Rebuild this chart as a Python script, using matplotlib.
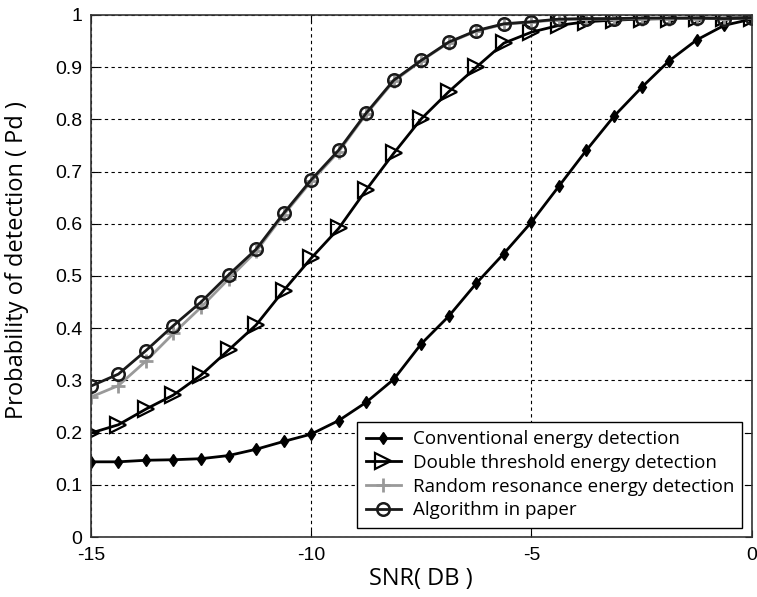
import matplotlib.pyplot as plt

plt.rcParams['axes.unicode_minus'] = False
plt.rcParams['font.family'] = ['Liberation Sans', 'DejaVu Sans']

# SNR sample points (dB)
snr = [-15, -14.375, -13.75, -13.125, -12.5, -11.875, -11.25, -10.625, -10,
       -9.375, -8.75, -8.125, -7.5, -6.875, -6.25, -5.625, -5, -4.375,
       -3.75, -3.125, -2.5, -1.875, -1.25, -0.625, 0]

pd_conventional = [0.144, 0.144, 0.147, 0.148, 0.150, 0.156, 0.168, 0.183, 0.197,
                   0.223, 0.258, 0.302, 0.370, 0.423, 0.486, 0.543, 0.603, 0.672,
                   0.741, 0.806, 0.861, 0.912, 0.952, 0.980, 0.992]
pd_double = [0.199, 0.215, 0.245, 0.272, 0.310, 0.358, 0.406, 0.472, 0.534,
             0.591, 0.665, 0.735, 0.801, 0.853, 0.900, 0.946, 0.967, 0.980,
             0.987, 0.990, 0.992, 0.993, 0.994, 0.994, 0.995]
pd_resonance = [0.268, 0.290, 0.337, 0.390, 0.440, 0.494, 0.547, 0.617, 0.681,
                0.738, 0.810, 0.873, 0.912, 0.947, 0.969, 0.982, 0.986, 0.991,
                0.992, 0.992, 0.993, 0.993, 0.993, 0.993, 0.994]
pd_paper = [0.289, 0.312, 0.357, 0.405, 0.450, 0.502, 0.551, 0.620, 0.684,
            0.741, 0.812, 0.875, 0.913, 0.948, 0.970, 0.983, 0.987, 0.992,
            0.993, 0.993, 0.994, 0.994, 0.994, 0.993, 0.994]

xticks = [-15, -10, -5, 0]
yticks = [0, 0.1, 0.2, 0.3, 0.4, 0.5, 0.6, 0.7, 0.8, 0.9, 1]
ytick_labels = ['0', '0.1', '0.2', '0.3', '0.4', '0.5', '0.6', '0.7', '0.8', '0.9', '1']

label_font = ['Open Sans', 'DejaVu Sans']

fig = plt.figure(figsize=(7.57, 5.97), dpi=100)
ax = fig.add_axes([0.120, 0.1005, 0.873, 0.8745])

ax.plot(snr, pd_conventional, color='black', lw=2, marker='d', ms=6,
        mfc='black', mec='black', label='Conventional energy detection')
ax.plot(snr, pd_double, color='black', lw=2, marker='>', ms=11,
        mfc='none', mec='black', mew=1.6, label='Double threshold energy detection')
ax.plot(snr, pd_resonance, color='#999999', lw=2, marker='+', ms=10,
        mew=2, label='Random resonance energy detection')
ax.plot(snr, pd_paper, color='#1a1a1a', lw=2, marker='o', ms=9,
        mfc='none', mec='#1a1a1a', mew=1.8, label='Algorithm in paper')

ax.set_xlim(-15, 0)
ax.set_ylim(0, 1)
ax.set_xticks(xticks)
ax.set_yticks(yticks, ytick_labels)
ax.tick_params(direction='in', top=True, right=True, length=5, labelsize=14)
ax.tick_params(axis='x', pad=7)
ax.tick_params(axis='y', pad=6)

ax.grid(True, color='black', linestyle=(0, (3, 3)), linewidth=0.8)
for s in ax.spines.values():
    s.set_linewidth(1.2)
    s.set_color('#333333')

ax.set_xlabel('SNR( DB )', fontsize=17, family=label_font, labelpad=2)
ax.set_ylabel('Probability of detection ( Pd )', fontsize=17, family=label_font)
ax.yaxis.set_label_coords(-0.094, 0.53)

leg = ax.legend(loc='lower right', prop={'family': label_font, 'size': 13.5},
                fancybox=False, framealpha=1, edgecolor='black',
                borderaxespad=0.5, handlelength=1.9, labelspacing=0.3,
                borderpad=0.45, handletextpad=0.6)
leg.get_frame().set_linewidth(1.0)

fig.savefig('out.png', dpi=100)
